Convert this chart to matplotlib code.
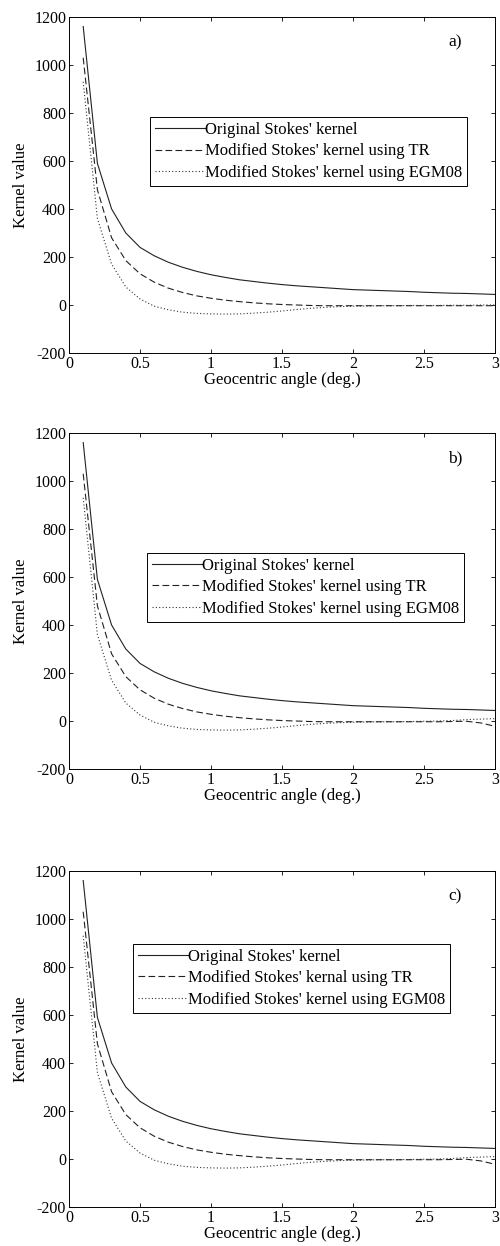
import matplotlib
matplotlib.use('Agg')
import matplotlib.pyplot as plt

plt.rcParams['font.family'] = ['Liberation Serif', 'DejaVu Serif']
plt.rcParams['axes.unicode_minus'] = False

# geocentric angle (deg.)
angle = [0.1, 0.2, 0.3, 0.4, 0.5, 0.6, 0.7, 0.8, 0.9, 1.0,
         1.1, 1.2, 1.3, 1.4, 1.5, 1.6, 1.7, 1.8, 1.9, 2.0,
         2.1, 2.2, 2.3, 2.4, 2.5, 2.6, 2.7, 2.8, 2.9, 3.0]

original = [1160, 590, 400, 300, 240, 205, 178, 157, 140, 126,
            115, 105, 98, 91, 85, 80, 76, 72, 68, 64,
            62, 60, 58, 56, 53, 51, 49, 48, 46, 44]

tr_a = [1030, 480, 280, 185, 130, 95, 70, 52, 38, 28,
        20, 14, 9, 5, 2, 0, -2, -3, -3, -3,
        -3, -3, -3, -3, -3, -3, -3, -3, -3, -3]
egm_a = [930, 360, 170, 75, 25, -5, -20, -30, -35, -37,
         -38, -37, -34, -30, -25, -19, -14, -10, -7, -5,
         -4, -3, -3, -2, -2, -2, -1, -1, 0, 0]

tr_bc = [1030, 480, 280, 185, 130, 95, 70, 52, 38, 28,
         20, 14, 9, 5, 2, 0, -2, -3, -3, -3,
         -3, -3, -3, -3, -3, -3, -2, -1, -8, -22]
egm_bc = [930, 360, 170, 75, 25, -5, -20, -30, -35, -37,
          -38, -37, -34, -30, -25, -19, -14, -10, -7, -5,
          -4, -3, -3, -2, -1, 0, 2, 6, 8, 10]

panels = ['a)', 'b)', 'c)']
tr_names = ["Modified Stokes' kernel using TR",
            "Modified Stokes' kernel using TR",
            "Modified Stokes' kernal using TR"]

fig = plt.figure(figsize=(5.0, 12.46), dpi=100)
bottoms = [0.7167, 0.3828, 0.0313]
legpos = [(0.19, 0.702), (0.183, 0.643), (0.150, 0.783)]
trs = [tr_a, tr_bc, tr_bc]
egms = [egm_a, egm_bc, egm_bc]

for i in range(3):
    ax = fig.add_axes([0.138, bottoms[i], 0.852, 0.2697])
    ax.plot(angle, original, '-', color='#222222', lw=0.8, label="Original Stokes' kernel")
    ax.plot(angle, trs[i], color='#222222', lw=0.8, dashes=(6, 3), label=tr_names[i])
    ax.plot(angle, egms[i], color='#333333', lw=0.8, dashes=(1, 2), label="Modified Stokes' kernel using EGM08")
    ax.set_xlim(0, 3)
    ax.set_ylim(-200, 1200)
    ax.set_xticks([0, 0.5, 1, 1.5, 2, 2.5, 3])
    ax.set_xticklabels(['0', '0.5', '1', '1.5', '2', '2.5', '3'])
    ax.set_yticks(range(-200, 1201, 200))
    ax.tick_params(direction='in', top=True, right=True, labelsize=11.5, length=3, width=0.6, pad=2)
    for s in ax.spines.values():
        s.set_linewidth(0.7)
    ax.set_xlabel('Geocentric angle (deg.)', fontsize=12, labelpad=0)
    ax.set_ylabel('Kernel value', fontsize=12, labelpad=4)
    ax.text(0.906, 0.923, panels[i], transform=ax.transAxes, fontsize=12.5, ha='center', va='center')
    leg = ax.legend(loc='upper left', bbox_to_anchor=legpos[i], fontsize=12, fancybox=False,
                    edgecolor='black', framealpha=1, handlelength=3.0, handletextpad=0.0,
                    borderaxespad=0, borderpad=0.3, labelspacing=0.32)
    leg.get_frame().set_linewidth(0.7)

plt.savefig('out.png', dpi=100)
